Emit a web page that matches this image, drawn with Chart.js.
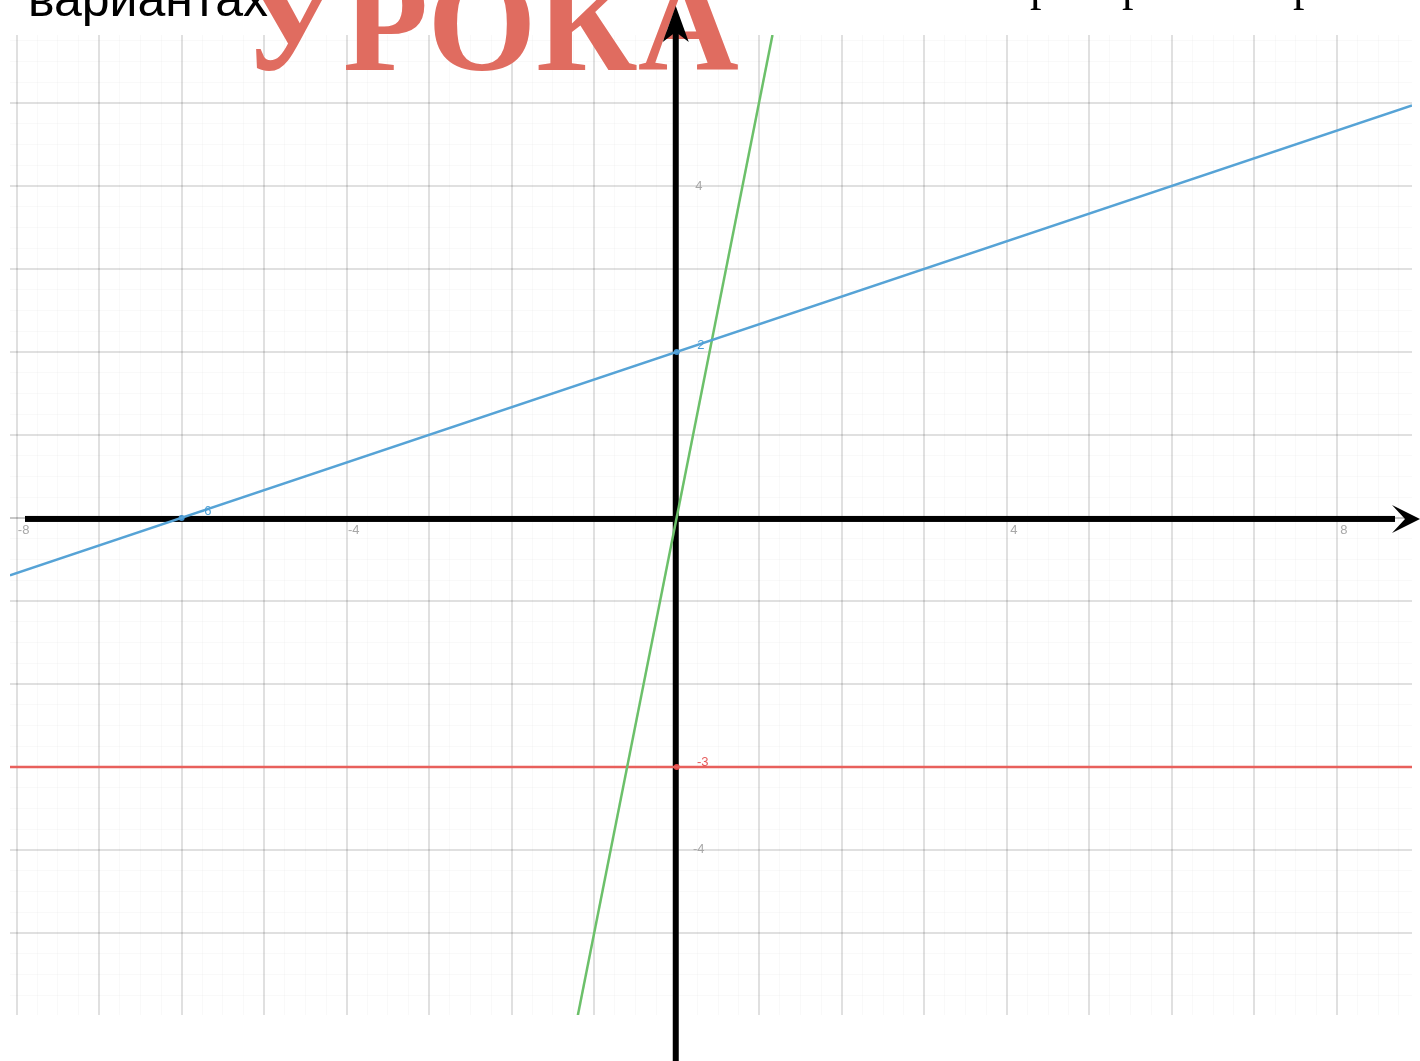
<!DOCTYPE html>
<html>
<head>
<meta charset="utf-8">
<script src="https://cdn.jsdelivr.net/npm/chart.js@4.4.1/dist/chart.umd.min.js"></script>
<style>
html, body { margin: 0; padding: 0; background: #fff; overflow: hidden; }
canvas { display: block; }
</style>
</head>
<body>
<canvas id="graph" width="1420" height="1061"></canvas>
<script>
// Visible window of the coordinate plane
const xRange = [-8.08, 8.91];
const yRange = [-5.99, 5.82];

// Major grid lines (one per unit)
const xGrid = [-8, -7, -6, -5, -4, -3, -2, -1, 0, 1, 2, 3, 4, 5, 6, 7, 8];
const yGrid = [-6, -5, -4, -3, -2, -1, 0, 1, 2, 3, 4, 5];

// Lines (end points at the edge of the grid)
const blueX = [-8.08, 8.91];
const blueY = [-0.69, 4.97];
const greenX = [-1.2, 1.16];
const greenY = [-6.0, 5.82];
const redX = [-8.08, 8.91];
const redY = [-3, -3];

// Marked points
const bluePtsX = [-6, 0];
const bluePtsY = [0, 2];
const redPtsX = [0];
const redPtsY = [-3];

// Tick labels printed on the axes
const xLabels = [-8, -4, 4, 8];
const yLabels = [4, -4];
const blueLabels = [["-6", -6, 0], ["2", 0, 2]];
const redLabels = [["-3", 0, -3]];

const toPts = (xs, ys) => xs.map((x, i) => ({ x: x, y: ys[i] }));

// Minor grid every quarter unit between the visible edges
function quarterTicks(min, max) {
    let out = [];
    for (let v = Math.ceil(min * 4); v <= Math.floor(max * 4); v++) {
        out.push({ value: v / 4 });
    }
    return out;
}

function gridColor(c) {
    const v = c.tick.value;
    if (Number.isInteger(v)) return v === 0 ? "rgba(0,0,0,0.22)" : "rgba(0,0,0,0.12)";
    return "rgba(0,0,0,0.025)";
}
function gridWidth(c) {
    return Number.isInteger(c.tick.value) ? 2 : 1;
}

const decor = {
    id: "decor",
    beforeDatasetsDraw(chart) {
        const ctx = chart.ctx;
        const xs = chart.scales.x, ys = chart.scales.y;
        const x0 = xs.getPixelForValue(0), y0 = ys.getPixelForValue(0);
        ctx.save();
        // slide text cut off at the top
        ctx.fillStyle = "#000";
        ctx.textBaseline = "alphabetic";
        ctx.font = '50px "Liberation Sans"';
        ctx.fillText("вариантах", 28, 16);
        ctx.font = '46px "Liberation Serif"';
        [1030, 1122, 1293].forEach(px => ctx.fillText("р", px, 0));
        ctx.fillStyle = "#E06C60";
        ctx.font = 'bold 140px "Liberation Serif"';
        ctx.fillText("УРОКА", 240, 70);

        // thick axes with arrows
        ctx.fillStyle = "#000";
        ctx.fillRect(25, y0 - 2, 1395 - 25, 6);
        ctx.fillRect(x0 - 4, 30, 6, 1061);
        ctx.beginPath();
        ctx.moveTo(1420, y0 + 1);
        ctx.lineTo(1392, y0 - 13);
        ctx.lineTo(1405, y0 + 1);
        ctx.lineTo(1392, y0 + 15);
        ctx.closePath();
        ctx.fill();
        ctx.beginPath();
        ctx.moveTo(x0 - 1, 6);
        ctx.lineTo(x0 + 12, 42);
        ctx.lineTo(x0 - 1, 32);
        ctx.lineTo(x0 - 14, 42);
        ctx.closePath();
        ctx.fill();
        ctx.restore();
    },
    afterDatasetsDraw(chart) {
        const ctx = chart.ctx;
        const xs = chart.scales.x, ys = chart.scales.y;
        const x0 = xs.getPixelForValue(0), y0 = ys.getPixelForValue(0);
        ctx.save();
        ctx.font = '13px "Liberation Sans"';
        ctx.textAlign = "center";
        ctx.textBaseline = "middle";
        ctx.fillStyle = "#a8a8a8";
        xLabels.forEach(v => ctx.fillText(String(v), xs.getPixelForValue(v) + 7, y0 + 12));
        yLabels.forEach(v => ctx.fillText(String(v), x0 + 22, ys.getPixelForValue(v)));
        ctx.fillStyle = "#4a9fd6";
        blueLabels.forEach(([t, x, y]) => ctx.fillText(t, xs.getPixelForValue(x) + 24, ys.getPixelForValue(y) - 7));
        ctx.fillStyle = "#e65a5a";
        redLabels.forEach(([t, x, y]) => ctx.fillText(t, xs.getPixelForValue(x) + 26, ys.getPixelForValue(y) - 4));
        ctx.restore();
    }
};

new Chart("graph", {
    type: "scatter",
    data: {
        datasets: [
            {
                data: toPts(blueX, blueY),
                showLine: true,
                borderColor: "#56a3d6",
                borderWidth: 2.5,
                pointRadius: 0,
            },
            {
                data: toPts(greenX, greenY),
                showLine: true,
                borderColor: "#6cc06a",
                borderWidth: 2.5,
                pointRadius: 0,
            },
            {
                data: toPts(redX, redY),
                showLine: true,
                borderColor: "#e8605c",
                borderWidth: 2.5,
                pointRadius: 0,
            },
            {
                data: toPts(bluePtsX, bluePtsY),
                backgroundColor: "#3f8fcc",
                borderWidth: 0,
                pointRadius: 3,
            },
            {
                data: toPts(redPtsX, redPtsY),
                backgroundColor: "#e24848",
                borderWidth: 0,
                pointRadius: 3,
            },
        ],
    },
    options: {
        responsive: false,
        animation: false,
        layout: {
            padding: { left: 10, right: 8, top: 35, bottom: 46 },
        },
        plugins: {
            legend: { display: false },
            tooltip: { enabled: false },
        },
        scales: {
            x: {
                type: "linear",
                min: xRange[0],
                max: xRange[1],
                afterBuildTicks: s => { s.ticks = quarterTicks(xRange[0], xRange[1]); },
                ticks: { display: false },
                border: { display: false },
                grid: { drawTicks: false, color: gridColor, lineWidth: gridWidth },
            },
            y: {
                type: "linear",
                min: yRange[0],
                max: yRange[1],
                afterBuildTicks: s => { s.ticks = quarterTicks(yRange[0], yRange[1]); },
                ticks: { display: false },
                border: { display: false },
                grid: { drawTicks: false, color: gridColor, lineWidth: gridWidth },
            },
        },
    },
    plugins: [decor],
});
</script>
</body>
</html>
